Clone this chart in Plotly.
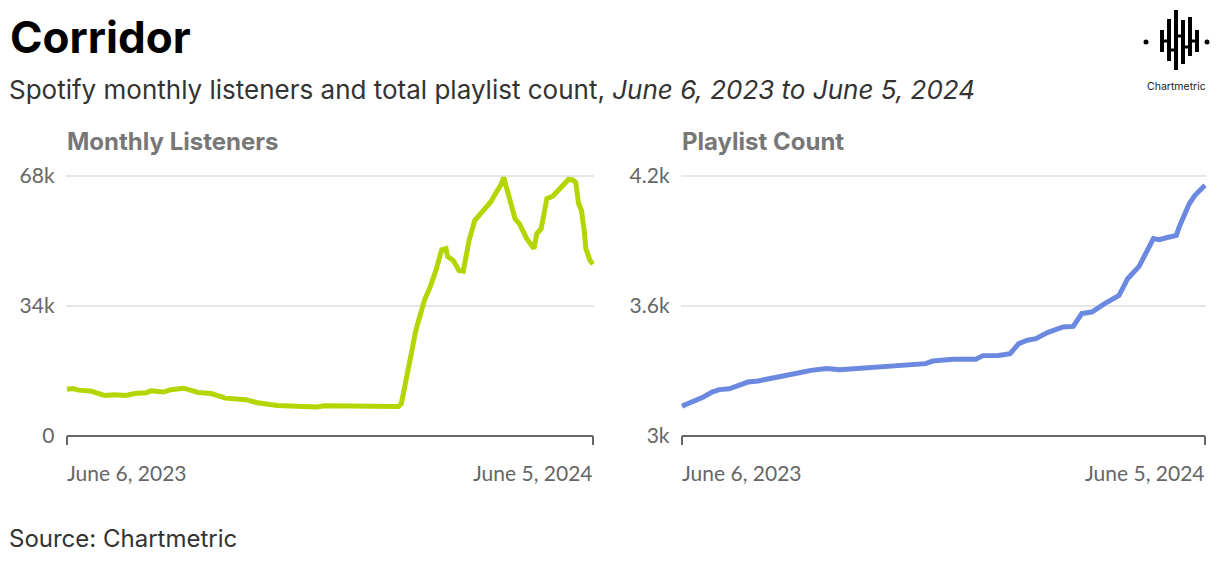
import pandas as pd
import plotly.graph_objects as go

START = "2023-06-06"
END = "2024-06-05"

# Monthly listeners: day offset from June 6, 2023 and value in thousands
ml_days = [0, 4, 8, 12, 17, 26, 33, 41, 47, 55, 58, 67, 72, 81, 84, 91, 100, 110, 124, 132,
           146, 162, 173, 179, 201, 209, 230, 232, 234, 238, 242, 248, 252, 256, 260, 263, 264,
           268, 272, 275, 279, 283, 289, 294, 298, 301, 303, 307, 309, 311, 314, 319, 324, 326,
           329, 333, 337, 341, 345, 348, 351, 353, 355, 357, 359, 360, 363, 365]
ml_vals = [12.2, 12.4, 12.0, 11.9, 11.7, 10.6, 10.8, 10.6, 11.1, 11.3, 11.8, 11.5, 12.1, 12.5,
           12.1, 11.4, 11.1, 9.9, 9.5, 8.7, 8.0, 7.6, 7.6, 7.9, 7.8, 7.7, 7.7, 8.5, 11.9, 19.8,
           27.6, 35.5, 39.0, 43.3, 48.7, 49.0, 47.0, 45.9, 43.3, 43.1, 51.2, 56.4, 59.0, 61.2,
           63.8, 65.6, 67.6, 62.5, 59.9, 56.8, 55.5, 51.6, 49.0, 52.9, 54.2, 62.1, 62.7, 64.4,
           66.0, 67.1, 67.0, 66.3, 60.8, 59.0, 53.4, 49.0, 45.9, 44.9]
ml_vals = [v * 1000 for v in ml_vals]

# Playlist count: day offset from June 6, 2023 and value
pc_days = [0, 6, 11, 15, 21, 26, 33, 37, 46, 53, 63, 71, 82, 90, 101, 110, 122, 133, 149, 159,
           170, 175, 189, 205, 210, 221, 229, 235, 241, 247, 255, 266, 273, 279, 286, 295, 305,
           311, 319, 329, 333, 338, 345, 347, 354, 358, 365]
pc_vals = [3138, 3154, 3168, 3180, 3203, 3214, 3218, 3229, 3249, 3254, 3269, 3280, 3292, 3303,
           3311, 3306, 3312, 3315, 3322, 3328, 3334, 3346, 3354, 3354, 3371, 3372, 3380, 3426,
           3442, 3449, 3477, 3503, 3506, 3565, 3572, 3611, 3649, 3726, 3783, 3911, 3906, 3915,
           3926, 3965, 4072, 4111, 4157]

ml_ticks = [0, 34000, 68000]
ml_ticktext = ["0", "34k", "68k"]
pc_ticks = [3000, 3600, 4200]
pc_ticktext = ["3k", "3.6k", "4.2k"]
x_labels = ["June 6, 2023", "June 5, 2024"]

start = pd.Timestamp(START)
ml_dates = [start + pd.Timedelta(days=d) for d in ml_days]
pc_dates = [start + pd.Timedelta(days=d) for d in pc_days]

W, H = 1220, 562
def px(x):
    return x / W
def py(y):
    return 1 - y / H

GREEN = "#b3d600"
BLUE = "#6b89e0"
FONT = "Inter"
TICKFONT = "Lato"
TICKSIZE = 21

fig = go.Figure()
fig.add_trace(go.Scatter(x=ml_dates, y=ml_vals, mode="lines", xaxis="x", yaxis="y",
                         line=dict(color=GREEN, width=5), hoverinfo="skip"))
fig.add_trace(go.Scatter(x=pc_dates, y=pc_vals, mode="lines", xaxis="x2", yaxis="y2",
                         line=dict(color=BLUE, width=5), hoverinfo="skip"))

day_px = (593 - 67) / 365.0
pad_days = 1
xr = [start - pd.Timedelta(days=pad_days), pd.Timestamp(END) + pd.Timedelta(days=pad_days)]

def xaxis_cfg(left, right):
    return dict(
        domain=[px(left - pad_days * day_px), px(right + pad_days * day_px)],
        type="date", range=xr, showgrid=False, zeroline=False, automargin=False,
        showline=False, ticks="", showticklabels=False, fixedrange=True,
    )

def yaxis_cfg(vals, texts, top_val, anchor):
    return dict(
        domain=[py(436), py(172)], range=[vals[0], top_val], automargin=False,
        tickvals=vals, ticktext=texts, showgrid=True, gridcolor="#e6e6e6", gridwidth=2,
        zeroline=False, showline=False, ticks="", anchor=anchor,
        tickfont=dict(family=TICKFONT, size=TICKSIZE, color="#666666"),
        ticklabelstandoff=10, fixedrange=True,
    )

fig.update_layout(
    width=W, height=H, margin=dict(l=0, r=0, t=0, b=0, pad=0, autoexpand=False), autosize=False,
    paper_bgcolor="white", plot_bgcolor="white", showlegend=False,
    xaxis=xaxis_cfg(67, 593),
    xaxis2=xaxis_cfg(682, 1205),
    yaxis=yaxis_cfg(ml_ticks, ml_ticktext, 68000 * 264 / 260, "x"),
    yaxis2=yaxis_cfg(pc_ticks, pc_ticktext, 3000 + 1200 * 264 / 260, "x2"),
)

shapes = []
for (l, r) in [(67, 593), (682, 1205)]:
    shapes.append(dict(type="line", xref="paper", yref="paper", x0=px(l), x1=px(r),
                       y0=py(436), y1=py(436), line=dict(color="#666666", width=2)))
    for xx in (l, r):
        shapes.append(dict(type="line", xref="paper", yref="paper", x0=px(xx), x1=px(xx),
                           y0=py(436), y1=py(445), line=dict(color="#666666", width=2)))

# Chartmetric logo (approximate)
bars = [(1162, 30, 52), (1169, 19, 61), (1176, 10, 70), (1183, 20, 64), (1190, 17, 56), (1197, 30, 52)]
for (bx, y0, y1) in bars:
    shapes.append(dict(type="line", xref="paper", yref="paper", x0=px(bx), x1=px(bx),
                       y0=py(y0), y1=py(y1), line=dict(color="black", width=4)))
for (xa, xb, yy) in [(1162, 1169, 41), (1169, 1176, 50), (1176, 1183, 36), (1183, 1190, 47), (1190, 1197, 41)]:
    shapes.append(dict(type="line", xref="paper", yref="paper", x0=px(xa), x1=px(xb),
                       y0=py(yy), y1=py(yy), line=dict(color="black", width=3)))
for dx in (1146, 1207):
    shapes.append(dict(type="circle", xref="paper", yref="paper", x0=px(dx - 2.5), x1=px(dx + 2.5),
                       y0=py(44.5), y1=py(39.5), fillcolor="black", line=dict(width=0)))
fig.update_layout(shapes=shapes)

ann = []
ann.append(dict(text="<b>Corridor</b>", x=px(8), y=py(37), xref="paper", yref="paper",
                xanchor="left", yanchor="middle", showarrow=False,
                font=dict(family=FONT, size=44, color="#000000")))
ann.append(dict(text="Spotify monthly listeners and total playlist count, <i>June 6, 2023 to June 5, 2024</i>",
                x=px(7), y=py(89), xref="paper", yref="paper", xanchor="left", yanchor="middle",
                showarrow=False, font=dict(family=FONT, size=26, color="#333333")))
ann.append(dict(text="Source: Chartmetric", x=px(7), y=py(538), xref="paper", yref="paper",
                xanchor="left", yanchor="middle", showarrow=False,
                font=dict(family=FONT, size=24, color="#333333")))
ann.append(dict(text="Chartmetric", x=px(1176), y=py(86), xref="paper", yref="paper",
                xanchor="center", yanchor="middle", showarrow=False,
                font=dict(family=FONT, size=10.5, color="#222222")))
for (lx, title) in [(65, "Monthly Listeners"), (680, "Playlist Count")]:
    ann.append(dict(text="<b>" + title + "</b>", x=px(lx), y=py(142), xref="paper", yref="paper",
                    xanchor="left", yanchor="middle", showarrow=False,
                    font=dict(family=FONT, size=24, color="#777777")))
for (l, r) in [(67, 593), (682, 1205)]:
    ann.append(dict(text=x_labels[0], x=px(l - 2), y=py(472), xref="paper", yref="paper",
                    xanchor="left", yanchor="middle", showarrow=False,
                    font=dict(family=TICKFONT, size=TICKSIZE, color="#666666")))
    ann.append(dict(text=x_labels[1], x=px(r + 2), y=py(472), xref="paper", yref="paper",
                    xanchor="right", yanchor="middle", showarrow=False,
                    font=dict(family=TICKFONT, size=TICKSIZE, color="#666666")))
fig.update_layout(annotations=ann)

post = "document.body.style.margin='0';document.body.style.padding='0';document.documentElement.style.overflow='hidden';"
fig.write_html("out.html", config={"displayModeBar": False, "responsive": False}, post_script=post)
